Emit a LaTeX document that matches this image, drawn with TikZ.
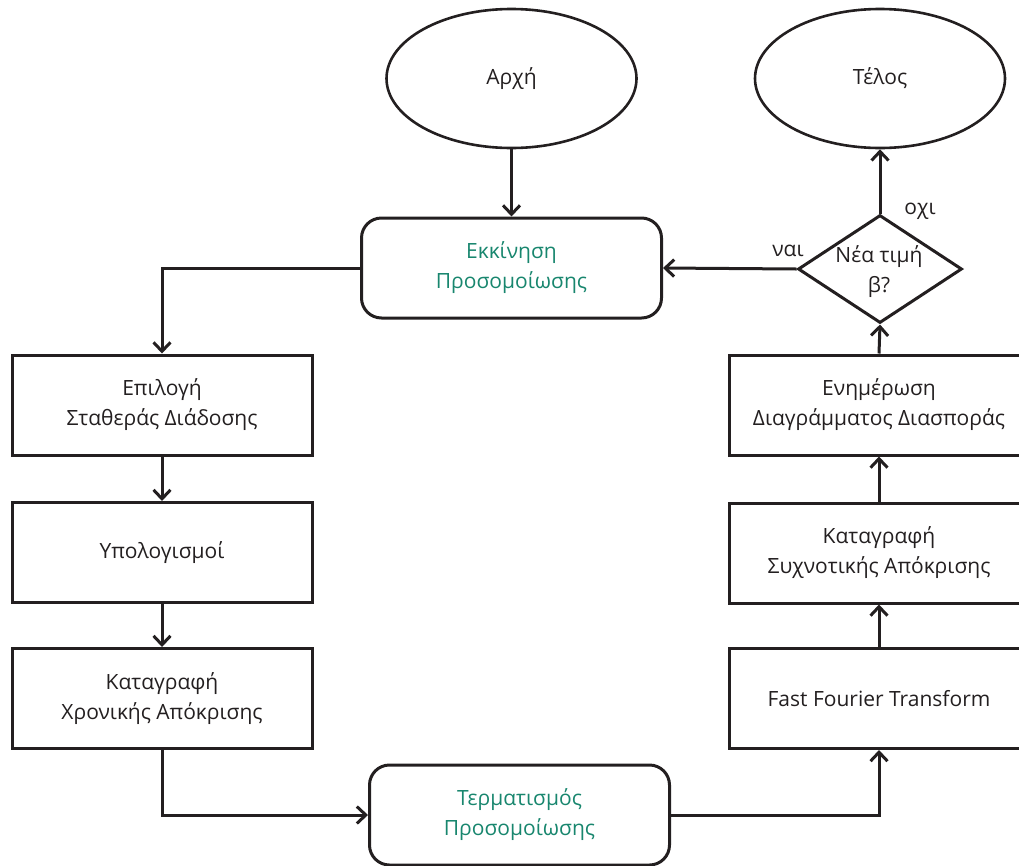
\documentclass[tikz,border=0pt]{standalone}
\usepackage{fontspec}
\setmainfont{Open Sans}
\usetikzlibrary{shapes.geometric,arrows.meta}
\definecolor{ink}{RGB}{35,31,32}
\definecolor{teal}{RGB}{24,134,110}
\tikzset{
  base/.style={draw=ink, line width=3pt, text=ink, align=center,
    font=\fontsize{21}{30}\selectfont, inner sep=0pt},
  terminal/.style={base, ellipse, line width=2.6pt,
    minimum width=250pt, minimum height=139pt},
  stepbox/.style={base, rectangle, minimum width=300pt, minimum height=100pt},
  simbox/.style={base, rectangle, rounded corners=20pt, text=teal,
    minimum width=300pt, minimum height=100pt},
  decision/.style={base, diamond, minimum width=164pt, minimum height=108pt},
  plain/.style={text=ink, align=center, inner sep=0pt,
    font=\fontsize{21}{30}\selectfont},
  flow/.style={draw=ink, line width=3pt,
    -{Straight Barb[length=9pt,width=17pt]}},
}
\begin{document}
\begin{tikzpicture}[x=1pt,y=-1pt]
\clip (0,0) rectangle (1019,865);
\useasboundingbox (0,0) rectangle (1019,865);

% start / end
\node[terminal] (start) at (511.5,78.5) {Αρχή};
\node[terminal] (finish) at (880,78.5) {Τέλος};

% simulation start / end
\node[simbox] (init) at (511.5,268) {Εκκίνηση\\Προσομοίωσης};
\node[simbox] (term) at (519.5,815) {Τερματισμός\\Προσομοίωσης};

% left column
\node[stepbox] (choose) at (162,405) {Επιλογή\\Σταθεράς Διάδοσης};
\node[stepbox] (calc) at (162,552.5) {Υπολογισμοί};
\node[stepbox] (timeresp) at (162,698.5) {Καταγραφή\\Χρονικής Απόκρισης};

% right column
\node[stepbox] (fft) at (879,698.5) {Fast Fourier Transform};
\node[stepbox] (freqresp) at (879,553) {Καταγραφή\\Συχνοτικής Απόκρισης};
\node[stepbox] (scatter) at (879,405) {Ενημέρωση\\Διαγράμματος Διασποράς};

% decision
\node[decision] (dec) at (880,269) {};
\node[plain] (dectext) at (879,272) {Νέα τιμή\\β?};

% connectors
\draw[flow] (start.south) -- (init.north);
\draw[flow] (init.west) -| (choose.north);
\draw[flow] (choose.south) -- (calc.north);
\draw[flow] (calc.south) -- (timeresp.north);
\draw[flow] (timeresp.south) |- (term.west);
\draw[flow] (term.east) -| (fft.south);
\draw[flow] (fft.north) -- (freqresp.south);
\draw[flow] (freqresp.north) -- (scatter.south);
\draw[flow] (scatter.north) -- (dec.south);
\draw[flow] (dec.north) -- (finish.south);
\draw[flow] (dec.west) -- (init.east);

% branch labels
\node[plain] (yes) at (788,251) {ναι};
\node[plain] (no) at (920,211) {οχι};
\end{tikzpicture}
\end{document}
